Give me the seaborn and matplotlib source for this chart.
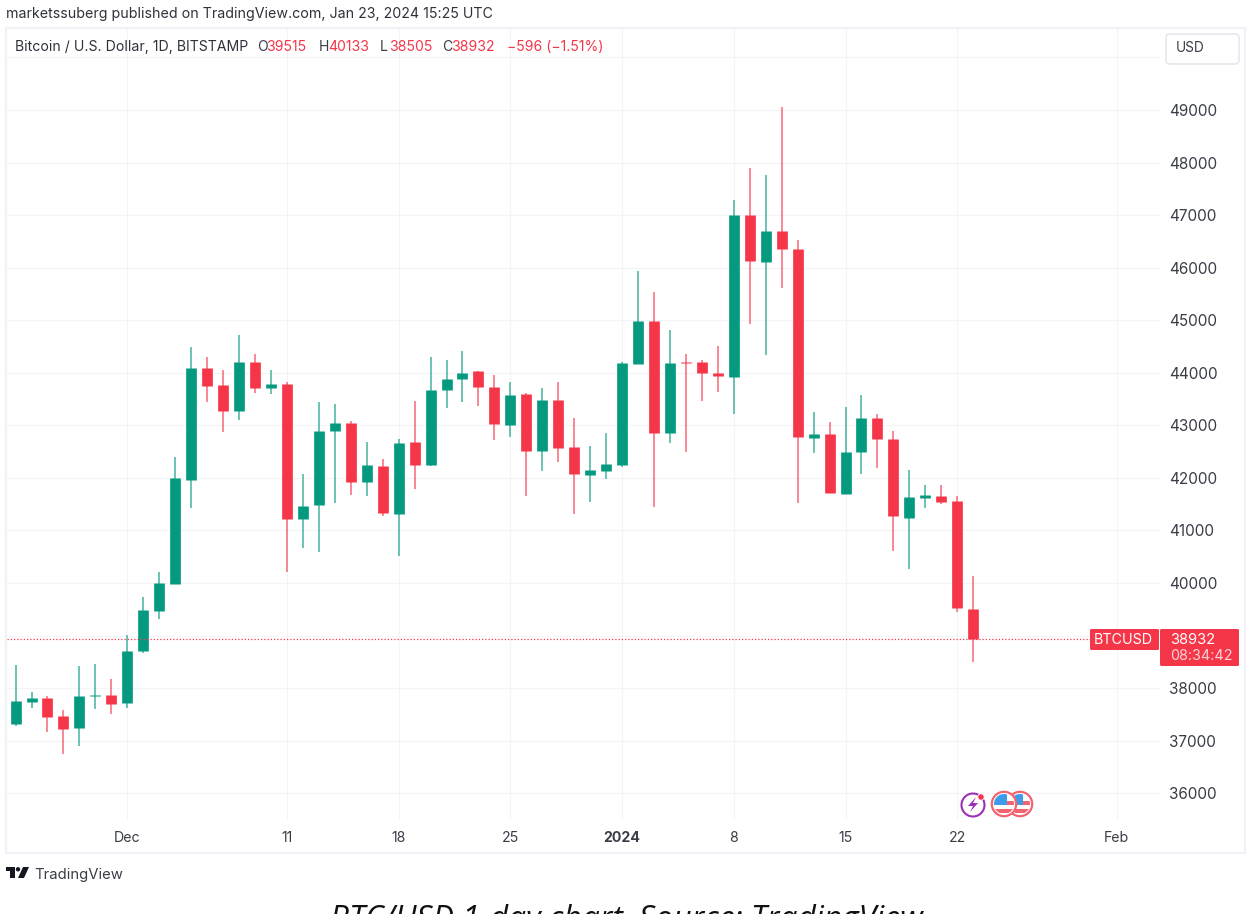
import matplotlib
matplotlib.use("Agg")
import matplotlib.pyplot as plt
from matplotlib.patches import Rectangle, Circle, FancyBboxPatch, Polygon
from matplotlib.transforms import Affine2D
import pandas as pd
import seaborn as sns

# ---- data ----
day_index = list(range(61))  # 0 = 24 Nov 2023, 60 = 23 Jan 2024
open_px = [37313,37745,37808,37466,37244,37859,37872,37726,38703,39476,39978,41963,44088,43777,43282,44202,
           43714,43796,41227,41481,42889,43048,41913,42223,41322,42680,42255,43670,43873,44025,43727,43010,
           43593,42509,43479,42585,42052,42141,42255,44171,44983,42851,44203,44209,44000,43924,47006,46106,
           46689,46347,42757,42839,41685,42484,43137,42750,41228,41621,41653,41564,39515]
close_px = [37758,37808,37453,37225,37846,37872,37707,38715,39489,39997,41995,44088,43758,43282,44202,43714,
            43796,41227,41474,42889,43048,41913,42249,41342,42655,42255,43682,43885,43999,43733,43029,43587,
            42509,43479,42572,42077,42154,42268,44183,44983,42851,44183,44190,43987,43943,47006,46131,46689,
            46359,42782,42839,41710,42497,43137,42731,41279,41634,41678,41551,39522,38932]
high_px = [38449,37922,37846,37580,38423,38468,38170,39013,39743,40219,42407,44500,44303,44050,44720,44367,
           44050,43821,42083,43453,43415,43086,42680,42363,42750,43454,44297,44253,44418,44025,43955,43822,
           43619,43708,43822,43137,42610,42864,44209,45940,45534,44805,44367,44253,44507,47285,47901,47761,
           49061,46531,43251,43067,43340,43575,43207,42890,42160,41862,41862,41659,40133]
low_px = [37288,37631,37174,36743,36901,37605,37516,37631,38677,39318,39978,41436,43441,42870,43098,43618,
          43599,40206,40663,40593,41525,41684,41665,41278,40523,41798,42223,43327,43435,43371,42712,42775,
          41665,42141,42300,41323,41551,41982,42211,44171,41456,42661,42502,43455,43644,43225,44920,44330,
          45605,41526,42465,41710,41685,42072,42186,40613,40270,41437,41501,39452,38505]
x_tick_days = [7, 17, 24, 31, 38, 45, 52, 59, 69]
x_tick_labels = ["Dec", "11", "18", "25", "2024", "8", "15", "22", "Feb"]
y_tick_values = list(range(36000, 51000, 1000))
y_tick_labels = ["36000", "37000", "38000", "", "40000", "41000", "42000", "43000", "44000",
                 "45000", "46000", "47000", "48000", "49000", ""]

UP = "#059A80"
DOWN = "#F53649"
GRID = "#F3F4F7"
TXT = "#3A3D47"
FONT = ["Inter", "DejaVu Sans"]

sns.set_theme(style="white")
plt.rcParams["font.family"] = FONT

W, H = 1254, 914
fig = plt.figure(figsize=(W / 100, H / 100), dpi=100, facecolor="white")
px = Affine2D().scale(1, -1).translate(0, H)

# plot pane in pixels
L, R, T, B = 7, 1160, 28, 820
ax = fig.add_axes([L / W, 1 - B / H, (R - L) / W, (B - T) / H])


def day_of(x):
    return 7 + (x - 127.3) / 15.96


def price_of(y):
    return 49000 - (y - 110) / 0.05256


ax.set_xlim(day_of(L), day_of(R))
ax.set_ylim(price_of(B), price_of(T))

candles = pd.DataFrame({"day": day_index, "o": open_px, "c": close_px, "h": high_px, "l": low_px})
candles["dir"] = ["up" if c >= o else "down" for o, c in zip(open_px, close_px)]
palette = {"up": UP, "down": DOWN}

wicks = candles.melt(id_vars=["day", "dir"], value_vars=["h", "l"], value_name="price")
bodies = candles.melt(id_vars=["day", "dir"], value_vars=["o", "c"], value_name="price")

sns.lineplot(data=wicks, x="day", y="price", hue="dir", units="day", estimator=None, palette=palette,
             legend=False, ax=ax, lw=1.1, solid_capstyle="butt", alpha=0.75, zorder=3)
sns.lineplot(data=bodies, x="day", y="price", hue="dir", units="day", estimator=None, palette=palette,
             legend=False, ax=ax, lw=7.7, solid_capstyle="butt", zorder=4)

ax.set_xlabel("")
ax.set_ylabel("")
ax.yaxis.tick_right()
ax.set_yticks(y_tick_values, y_tick_labels)
ax.set_xticks(x_tick_days, x_tick_labels)
ax.tick_params(axis="y", length=0, pad=6.5, labelsize=11, labelcolor=TXT)
ax.tick_params(axis="x", length=0, pad=8, labelsize=10.2, labelcolor=TXT)
for lab in ax.get_xticklabels():
    if lab.get_text() == "2024":
        lab.set_fontweight("bold")
ax.grid(True, color=GRID, lw=0.8)
ax.set_axisbelow(True)
for s in ax.spines.values():
    s.set_visible(False)

# last price line
ax.plot([day_of(L), day_of(1090)], [close_px[-1], close_px[-1]], color=DOWN, lw=0.9, ls=(0, (1, 1.6)), zorder=5)

# outer frame
fig.add_artist(Rectangle((6, 28), 1239, 825, transform=px, fc="none", ec="#F0F2F7", lw=1.6))


def label(x, y, s, color=TXT, size=10.2, ha="left", **kw):
    fig.text(x, y, s, transform=px, color=color, fontsize=size, ha=ha, va="center", **kw)


# heading
label(6, 14, "marketssuberg published on TradingView.com, Jan 23, 2024 15:25 UTC", color="#2F323B", size=10.24)
label(15, 47, "Bitcoin / U.S. Dollar, 1D, BITSTAMP", color="#2F323B", size=10.17)
for x, s, c in [(257, "O", TXT), (266, "39515", DOWN), (319, "H", TXT), (328, "40133", DOWN),
                (380, "L", TXT), (389, "38505", DOWN), (442, "C", TXT), (451, "38932", DOWN),
                (507, "\u2212596 (\u22121.51%)", DOWN)]:
    label(x, 47, s, color=c, size=10.1)

# USD button
fig.add_artist(FancyBboxPatch((1166, 34), 73, 30, boxstyle="round,pad=0,rounding_size=4", transform=px,
                              fc="white", ec="#E6E8EE", lw=1.2, zorder=6))
label(1190, 48, "USD", size=9.8, ha="center", zorder=7)

# price tags
fig.add_artist(FancyBboxPatch((1090, 629), 69, 21, boxstyle="round,pad=0,rounding_size=1.5", transform=px,
                              fc=DOWN, ec="none", zorder=6))
fig.add_artist(FancyBboxPatch((1160, 629), 79, 37, boxstyle="round,pad=0,rounding_size=1.5", transform=px,
                              fc=DOWN, ec="none", zorder=6))
label(1094, 640, "BTCUSD", color="white", size=10.3, zorder=7)
label(1170, 640, "38932", color="white", size=10.6, zorder=7)
label(1170, 656, "08:34:42", color="#FCD3D7", size=10.3, zorder=7)

# event icons
fig.add_artist(Circle((973, 805), 11.5, transform=px, fc="white", ec="#9C2FB5", lw=1.5, zorder=6))
fig.add_artist(Polygon([(976, 797), (968, 806), (973, 806), (970, 812), (978, 803), (973, 803)], transform=px,
                       fc="#9C2FB5", ec="none", zorder=7))
fig.add_artist(Circle((981, 797), 3.2, transform=px, fc=DOWN, ec="white", lw=0.6, zorder=8))
for n, cx in enumerate((1020, 1004)):
    z = 6 + 4 * n
    fig.add_artist(Circle((cx, 804), 12.2, transform=px, fc="white", ec="#F5636F", lw=1.6, zorder=z))
    clip = Circle((cx, 804), 10, transform=px)
    for part, zz in ((Rectangle((cx + 3, 801), 9, 4, transform=px, fc="#F5636F", ec="none"), z + 1),
                     (Rectangle((cx - 11, 809), 22, 4, transform=px, fc="#F5636F", ec="none"), z + 1),
                     (Rectangle((cx - 11, 794), 14, 11, transform=px, fc="#3D9BE9", ec="none"), z + 2)):
        part.set_zorder(zz)
        fig.add_artist(part)
        part.set_clip_path(clip)

# TradingView logo
fig.add_artist(Polygon([(6, 867), (15, 867), (15, 878), (10, 878), (10, 871), (6, 871)], transform=px,
                       fc="#131722", ec="none"))
fig.add_artist(Circle((18, 869.3), 2.2, transform=px, fc="#131722", ec="none"))
fig.add_artist(Polygon([(23, 867), (29, 867), (24, 878), (18, 878)], transform=px, fc="#131722", ec="none"))
label(34, 875, "TradingView", color="#3A3D47", size=10.7)

# caption, cut by the lower edge as in the source
fig.text(626, 929, "BTC/USD 1-day chart. Source: TradingView", transform=px, ha="center", va="baseline",
         family="Open Sans", style="italic", fontsize=22.95, color="#111111")

fig.savefig("out.png", dpi=100, facecolor="white")
